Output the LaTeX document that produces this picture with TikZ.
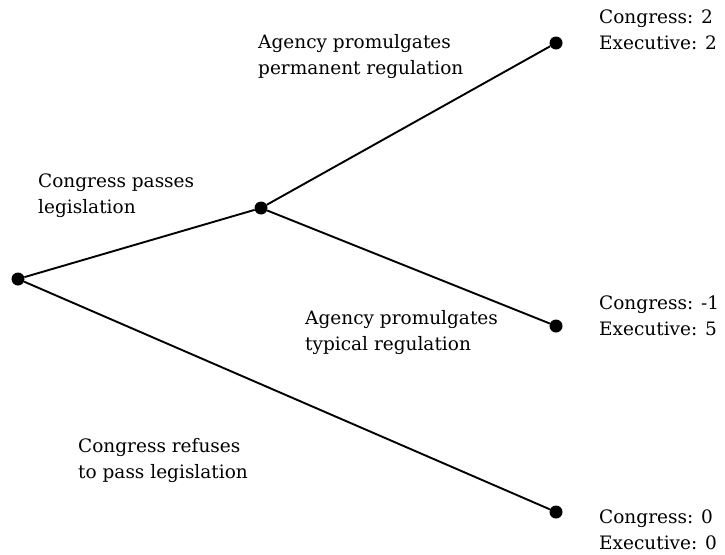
\documentclass[tikz,border=0pt]{standalone}
\usepackage{fontspec}
\setmainfont{DejaVu Serif}
\begin{document}
\begin{tikzpicture}[x=1pt,y=-1pt,
  dot/.style={circle,fill=black,inner sep=0pt,minimum size=13pt},
  lbl/.style={anchor=west,align=left,font=\fontsize{18.5}{26}\selectfont,inner sep=0pt},
  edge/.style={line width=1.9pt}]
\useasboundingbox (0,0) rectangle (725,554);
\node[dot] (r) at (18,279) {};
\node[dot] (m) at (261,208) {};
\node[dot] (t) at (556,43) {};
\node[dot] (u) at (556,326) {};
\node[dot] (b) at (556,512) {};
\draw[edge] (r) -- (m);
\draw[edge] (m) -- (t);
\draw[edge] (m) -- (u);
\draw[edge] (r) -- (b);
\node[lbl] (l1) at (38,196) {Congress passes\\legislation};
\node[lbl] (l2) at (258,57) {Agency promulgates\\permanent regulation};
\node[lbl] (l3) at (305,333) {Agency promulgates\\typical regulation};
\node[lbl] (l4) at (78,461) {Congress refuses\\to pass legislation};
\node[lbl] (p1) at (599,30) {Congress: 2\\Executive: 2};
\node[lbl] (p2) at (599,316) {Congress: -1\\Executive: 5};
\node[lbl] (p3) at (599,530) {Congress: 0\\Executive: 0};
\end{tikzpicture}
\end{document}
